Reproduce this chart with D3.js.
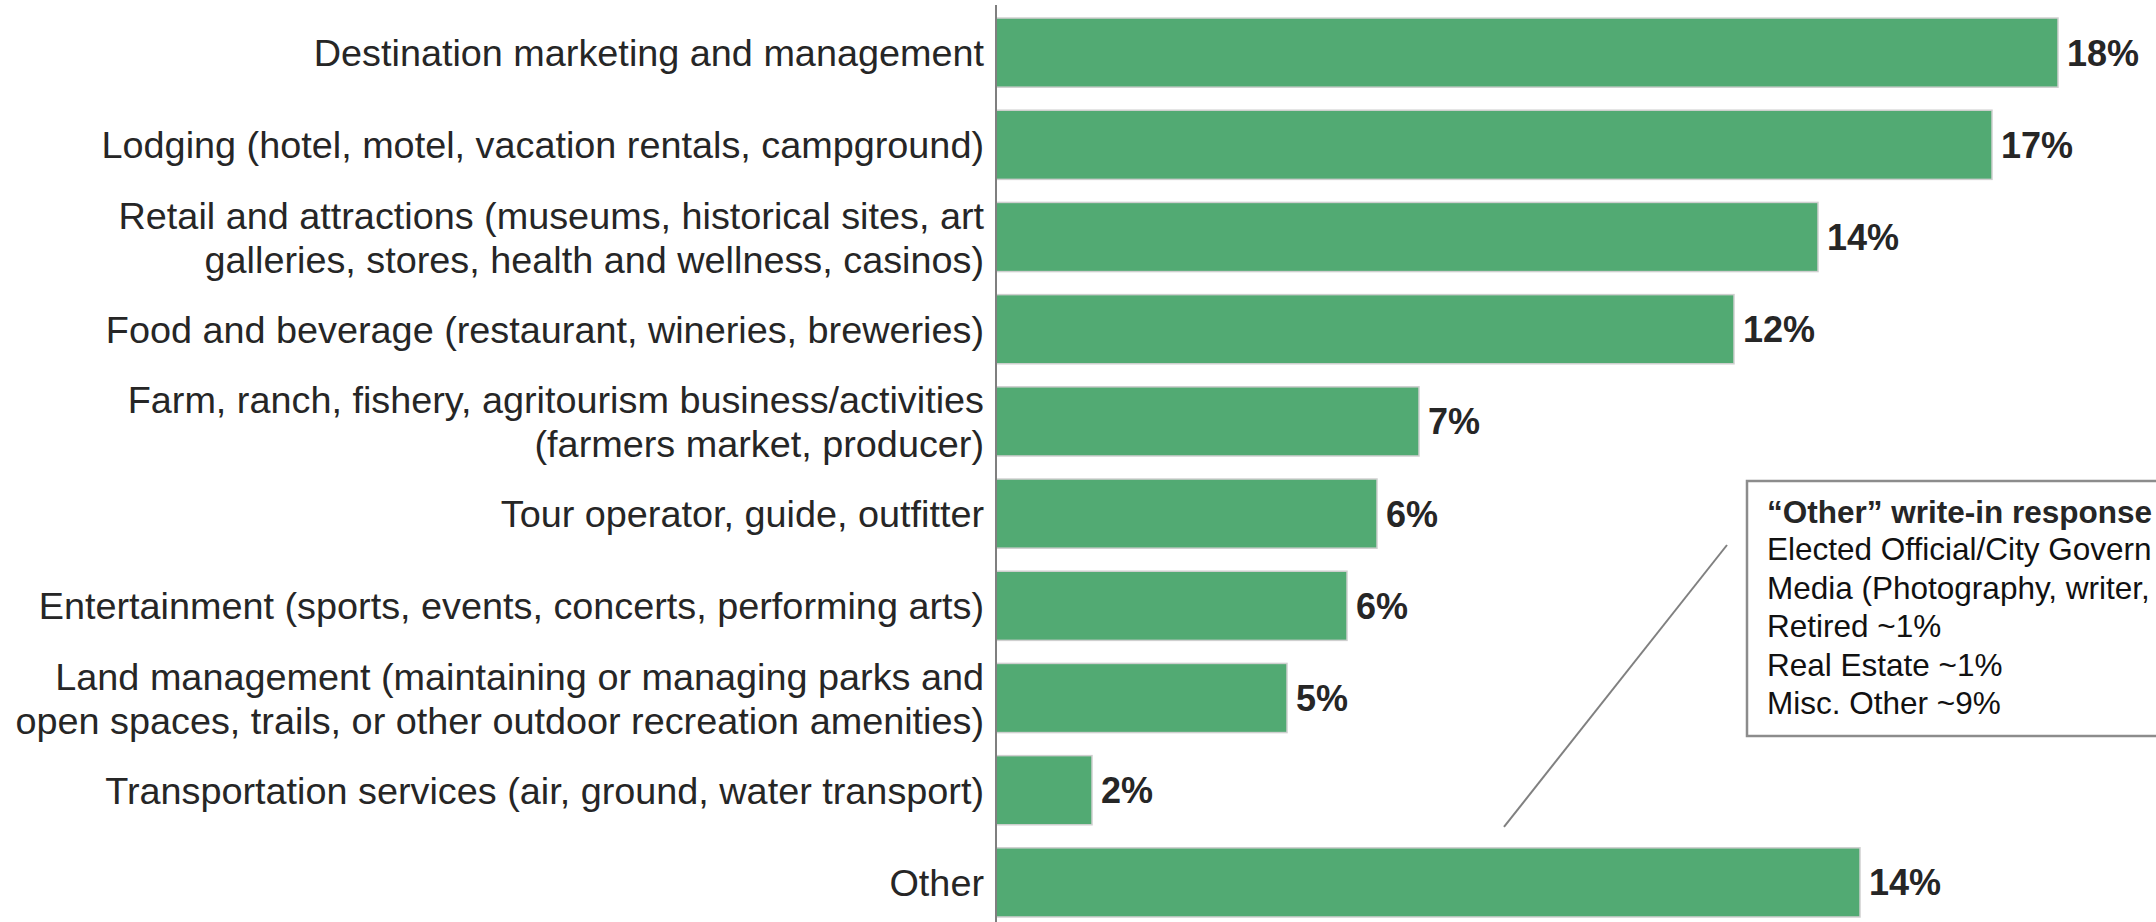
<!DOCTYPE html>
<html>
<head>
<meta charset="utf-8">
<script src="https://cdnjs.cloudflare.com/ajax/libs/d3/7.8.5/d3.min.js"></script>
<style>
  body { margin: 0; background: #fff; overflow: hidden; }
  svg { display: block; font-family: "Liberation Sans", Arial, sans-serif; }
</style>
</head>
<body>
<div id="chart"></div>
<script>
// categories, one string per bar, "\n" marks a line break in the label
var categories = [
    "Destination marketing and management",
    "Lodging (hotel, motel, vacation rentals, campground)",
    "Retail and attractions (museums, historical sites, art\ngalleries, stores, health and wellness, casinos)",
    "Food and beverage (restaurant, wineries, breweries)",
    "Farm, ranch, fishery, agritourism business/activities\n(farmers market, producer)",
    "Tour operator, guide, outfitter",
    "Entertainment (sports, events, concerts, performing arts)",
    "Land management (maintaining or managing parks and\nopen spaces, trails, or other outdoor recreation amenities)",
    "Transportation services (air, ground, water transport)",
    "Other"
];
// share of respondents (%)
var values = [17.7, 16.6, 13.7, 12.3, 7.05, 6.35, 5.85, 4.85, 1.6, 14.4];

// note box text, as far as it is visible in the reference
var noteTitle = "\u201cOther\u201d write-in response";
var noteLines = [
    "Elected Official/City Govern",
    "Media (Photography, writer,",
    "Retired ~1%",
    "Real Estate ~1%",
    "Misc. Other ~9%"
];

var width = 2156, height = 922;
var margin = { top: 6, right: 0, bottom: 0, left: 996 };

var svg = d3.select("#chart")
    .append("svg")
    .attr("width", width)
    .attr("height", height);

var x = d3.scaleLinear()
    .domain([0, 20])
    .range([margin.left, margin.left + 1200]);

var y = d3.scaleBand()
    .domain(categories)
    .range([6.5, 928.5])
    .paddingInner(0.25)
    .paddingOuter(0.125);

// bars
svg.append("g")
    .selectAll("rect")
    .data(values)
    .enter()
    .append("rect")
    .attr("x", x(0))
    .attr("y", function (d, i) { return y(categories[i]); })
    .attr("width", function (d) { return x(d) - x(0); })
    .attr("height", y.bandwidth())
    .style("fill", "#52aa73")
    .style("stroke", "#cfcfcf")
    .style("stroke-width", 1.5);

// value labels
svg.append("g")
    .selectAll("text")
    .data(values)
    .enter()
    .append("text")
    .text(function (d) { return Math.round(d) + "%"; })
    .attr("x", function (d) { return x(d) + 9; })
    .attr("y", function (d, i) { return y(categories[i]) + y.bandwidth() / 2; })
    .attr("dy", "0.36em")
    .style("font-size", "36px")
    .style("font-weight", "bold")
    .style("fill", "#262626");

// category axis
var axis = svg.append("g")
    .attr("transform", "translate(" + x(0) + ",0)")
    .call(d3.axisLeft(y).tickSize(0).tickPadding(12));

axis.select(".domain").remove();
axis.append("line")
    .attr("x1", 0).attr("x2", 0)
    .attr("y1", 5).attr("y2", height)
    .style("stroke", "#7f7f7f")
    .style("stroke-width", 2);

axis.selectAll(".tick text").each(function (d) {
    var t = d3.select(this);
    var lines = d.split("\n");
    var lineH = 44;
    t.text(null)
        .attr("dy", null)
        .style("font-size", "37.8px")
        .style("font-family", "'Liberation Sans', Arial, sans-serif")
        .style("fill", "#262626");
    lines.forEach(function (line, k) {
        t.append("tspan")
            .attr("x", -12)
            .attr("y", (k - (lines.length - 1) / 2) * lineH)
            .attr("dy", "0.36em")
            .text(line);
    });
});

// leader line to the "Other" bar
svg.append("line")
    .attr("x1", 1727).attr("y1", 545)
    .attr("x2", 1504).attr("y2", y("Other") - 21)
    .style("stroke", "#808080")
    .style("stroke-width", 2);

// note box
var note = svg.append("g").attr("transform", "translate(1747,481)");
note.append("rect")
    .attr("width", 560)
    .attr("height", 255)
    .style("fill", "#fff")
    .style("stroke", "#8c8c8c")
    .style("stroke-width", 2.5);

note.append("text")
    .text(noteTitle)
    .attr("x", 20)
    .attr("y", 42)
    .style("font-size", "31.5px")
    .style("font-weight", "bold")
    .style("fill", "#262626");

note.selectAll(".line")
    .data(noteLines)
    .enter()
    .append("text")
    .attr("class", "line")
    .text(function (d) { return d; })
    .attr("x", 20)
    .attr("y", function (d, i) { return 79 + i * 38.5; })
    .style("font-size", "31.5px")
    .style("fill", "#111");
</script>
</body>
</html>
